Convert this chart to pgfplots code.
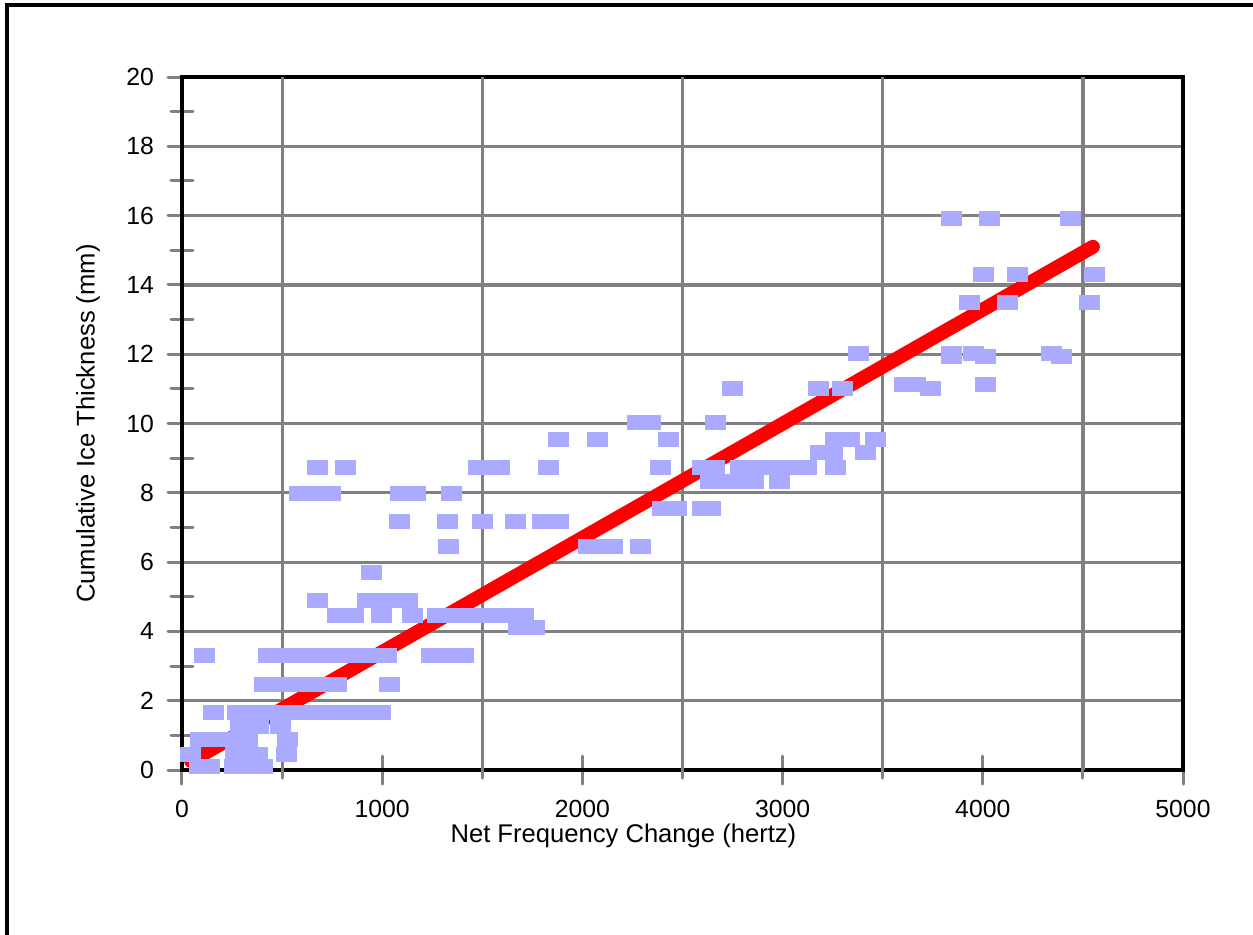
\documentclass[border=0pt]{standalone}
\usepackage{fontspec}
\setmainfont{Liberation Sans}
\usepackage{pgfplots}
\usepackage{pgfplotstable}
\pgfplotsset{compat=1.18}
\definecolor{markblue}{HTML}{AAAAFF}
\definecolor{gridgray}{HTML}{808080}
\pgfdeclareplotmark{wrect}{\pgfpathrectangle{\pgfpoint{-5.25pt}{-3.75pt}}{\pgfpoint{10.5pt}{7.5pt}}\pgfusepathqfill}

\pgfplotstableread{
x y
85 0.1
135 0.1
260 0.1
330 0.1
400 0.1
40 0.45
265 0.45
340 0.45
375 0.45
520 0.45
90 0.87
180 0.87
270 0.87
325 0.87
525 0.87
290 1.27
380 1.27
490 1.27
155 1.67
275 1.67
365 1.67
455 1.67
545 1.67
635 1.67
725 1.67
815 1.67
905 1.67
990 1.67
410 2.48
500 2.48
590 2.48
680 2.48
770 2.48
1035 2.48
110 3.3
430 3.3
520 3.3
610 3.3
700 3.3
790 3.3
880 3.3
970 3.3
1020 3.3
1245 3.3
1340 3.3
1405 3.3
1680 4.1
1760 4.1
775 4.47
855 4.47
995 4.47
1150 4.47
1275 4.47
1365 4.47
1455 4.47
1545 4.47
1635 4.47
1705 4.47
675 4.88
925 4.88
1020 4.88
1125 4.88
945 5.69
1330 6.46
2030 6.46
2090 6.46
2150 6.46
2290 6.46
1085 7.16
1325 7.16
1500 7.16
1665 7.16
1800 7.16
1880 7.16
2400 7.56
2470 7.56
2600 7.56
2640 7.56
585 7.97
680 7.97
740 7.97
1090 7.97
1165 7.97
1345 7.97
2640 8.34
2730 8.34
2815 8.34
2855 8.34
2985 8.34
675 8.74
815 8.74
1480 8.74
1585 8.74
1830 8.74
2390 8.74
2600 8.74
2660 8.74
2790 8.74
2880 8.74
2970 8.74
3060 8.74
3120 8.74
3265 8.74
3190 9.15
3250 9.15
3415 9.15
1880 9.55
2075 9.55
2430 9.55
3265 9.55
3335 9.55
3465 9.55
2275 10.04
2340 10.04
2665 10.04
2750 11.02
3180 11.02
3300 11.02
3740 11.02
3610 11.14
3665 11.14
4015 11.14
3845 11.92
4015 11.92
4395 11.92
3380 12.03
3845 12.03
3955 12.03
4345 12.03
3935 13.5
4125 13.5
4535 13.5
4005 14.31
4175 14.31
4560 14.31
3845 15.93
4035 15.93
4440 15.93
}\scatterdata

\begin{document}
\begin{tikzpicture}
\useasboundingbox (0,0) rectangle (626.5pt,467pt);
\draw[black, line width=2pt] (3.5pt,-20pt) -- (3.5pt,464.5pt) -- (660pt,464.5pt);
\begin{axis}[
  at={(91pt,82pt)}, anchor=south west,
  scale only axis, width=500.5pt, height=346.5pt,
  xmin=0, xmax=5000, ymin=0, ymax=20,
  clip=false,
  axis line style={black, line width=1.8pt},
  xtick={0,1000,...,5000},
  extra x ticks={500,1500,2500,3500,4500},
  extra x tick labels={},
  extra x tick style={xmajorgrids=true, major tick length=8pt},
  ytick={0,2,...,20},
  minor ytick={1,3,...,19},
  ymajorgrids=true,
  xtick pos=bottom, ytick pos=left,
  tick align=center,
  major tick length=14pt,
  minor tick length=11pt,
  every tick/.append style={gridgray, line width=1.5pt, line cap=round},
  major grid style={gridgray, line width=1.6pt},
  scaled x ticks=false,
  /pgf/number format/assume math mode=true,
  /pgf/number format/1000 sep={},
  tick label style={font=\fontsize{12.4}{14}\selectfont, black},
  xticklabel style={yshift=-4.5pt},
  yticklabel style={xshift=-3.5pt},
  xlabel={Net Frequency Change (hertz)},
  ylabel={Cumulative Ice Thickness (mm)},
  every axis x label/.style={at={(axis description cs:0.441,-0.095)}, anchor=center, font=\fontsize{12.8}{14}\selectfont},
  every axis y label/.style={at={(axis description cs:-0.0939,0.5)}, rotate=90, anchor=center, font=\fontsize{12.8}{14}\selectfont},
]
\addplot[only marks, mark=wrect, mark options={markblue}, draw=none] table {\scatterdata};
\addplot[red, line width=7pt, line cap=round] coordinates {(45,0.26) (4550,15.10)};
\end{axis}
\end{tikzpicture}
\end{document}
